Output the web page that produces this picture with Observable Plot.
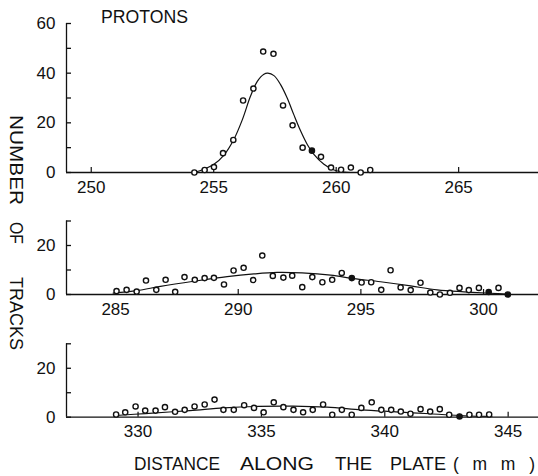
<!DOCTYPE html>
<html><head><meta charset="utf-8">
<script src="https://cdn.jsdelivr.net/npm/d3@7"></script>
<script src="https://cdn.jsdelivr.net/npm/@observablehq/plot@0.6"></script>
<style>
body{margin:0;background:#fff;}
#fig{position:relative;width:538px;height:476px;font-family:"Liberation Sans",Arial,sans-serif;color:#111;}
#fig svg{position:absolute;left:0;}
</style></head><body><div id="fig"></div>
<script>
// ---- Panel 1 (protons, 250–265 mm) ----
const p1X = [254.21,254.63,255.01,255.38,255.80,256.20,256.62,257.02,257.44,257.83,258.22,258.63,259.01,259.38,259.79,260.20,260.60,261.00,261.39];
const p1Y = [0,1.0,2.2,7.8,13.1,29.0,33.8,48.7,47.8,27.0,19.0,10.0,8.8,6.3,2.0,1.1,2.0,0,1.0];
const p1Solid = [259.01];
const p1CurveX = [254.2,254.60,255.01,255.41,255.82,256.17,256.50,256.78,257.05,257.21,257.46,257.73,258.00,258.27,258.55,258.82,259.09,259.50,259.91,260.31,260.6];
const p1CurveY = [0,1.3,3.3,6.9,13.3,21.3,30.7,36.7,39.6,40.0,39.0,35.4,30.0,23.3,16.7,11.3,7.3,3.3,1.0,0.2,0];
const p1XTicks = [250,255,260,265];
const p1YTicks = [0,10,20,30,40,50,60];

// ---- Panel 2 (285–300 mm) ----
const p2X = [285.04,285.45,285.86,286.24,286.66,287.04,287.43,287.81,288.23,288.63,289.01,289.42,289.81,290.22,290.61,290.98,291.41,291.84,292.20,292.61,293.02,293.43,293.83,294.22,294.63,295.03,295.42,295.83,296.21,296.62,297.03,297.43,297.83,298.22,298.63,299.02,299.40,299.81,300.21,300.61,300.99];
const p2Y = [1.4,1.9,1.2,5.7,1.9,6.0,1.1,7.1,6.0,6.7,6.8,4.1,9.8,10.9,5.9,15.9,7.6,6.9,7.7,3.0,7.1,5.0,6.0,8.8,6.7,4.9,5.0,1.9,9.9,2.9,1.8,4.8,0.8,0,0.7,2.7,1.8,2.7,1.0,2.7,0];
const p2Solid = [294.63,300.21,300.99];
const p2CurveX = [284.9,285.88,286.83,288.19,289.55,290.64,291.59,292.6,293.77,294.71,295.80,297.03,298.11,299.2,300.28,301.1];
const p2CurveY = [0.6,1.6,3.3,5.4,7.3,8.4,9.0,8.8,7.9,6.5,5.2,3.5,1.9,1.1,0.5,0.1];
const p2XTicks = [285,290,295,300];
const p2YTicks = [0,10,20,30];

// ---- Panel 3 (330–345 mm) ----
const p3X = [329.11,329.48,329.90,330.29,330.71,331.09,331.50,331.89,332.29,332.70,333.10,333.46,333.88,334.30,334.70,335.09,335.50,335.89,336.30,336.69,337.08,337.50,337.87,338.26,338.66,339.05,339.47,339.86,340.26,340.65,341.04,341.45,341.84,342.23,342.61,343.03,343.43,343.82,344.23];
const p3Y = [1.1,2.0,4.4,2.7,2.7,4.1,2.2,3.0,4.4,5.2,7.2,3.0,3.0,4.9,3.8,2.0,6.1,4.1,3.0,2.0,3.0,5.2,1.0,3.0,1.0,3.8,6.1,3.0,3.0,2.3,1.4,3.3,2.3,3.3,1.0,0.3,1.0,1.0,1.1];
const p3Solid = [343.03];
const p3CurveX = [329.1,330.3,332.1,333.49,334.88,336.27,337.66,339.05,340.44,341.84,343.23,344.34];
const p3CurveY = [0.7,1.5,2.7,3.8,4.4,4.5,4.1,3.0,2.2,1.4,0.6,0.3];
const p3XTicks = [330,335,340,345];
const p3YTicks = [0,10,20,30];

const INK = "#111";
const FONT = '"Liberation Sans", Arial, sans-serif';
const W = 538, ML = 66, TICK = 5;
const fig = document.getElementById("fig");

function panel({top, height, mt, mb, xDomain, yDomain, xTicks, yTicks, px, py, solid, cx, cy, labelPad}) {
  const pts = px.map((x, i) => ({x, y: py[i], fill: solid.includes(x) ? INK : "white"}));
  const curve = cx.map((x, i) => ({x, y: cy[i]}));
  const frameW = W - ML, frameH = height - mt - mb;
  const svg = Plot.plot({
    width: W, height,
    marginLeft: ML, marginRight: 0, marginTop: mt, marginBottom: mb,
    style: {fontFamily: FONT, fontSize: "17px", color: INK, background: "transparent", overflow: "visible"},
    x: {domain: xDomain, axis: null},
    y: {domain: yDomain, axis: null},
    color: {type: "identity"},
    marks: [
      Plot.ruleY([0], {stroke: INK, strokeWidth: 1.3}),
      Plot.ruleX([xDomain[0]], {y1: yDomain[0], y2: yDomain[1], stroke: INK, strokeWidth: 1.3}),
      // inward tick marks
      Plot.tickY(yTicks, {y: d => d, insetRight: frameW - TICK, stroke: INK, strokeWidth: 1.3}),
      Plot.tickX(xTicks, {x: d => d, insetTop: frameH - TICK, stroke: INK, strokeWidth: 1.2}),
      // labels
      Plot.axisY(yTicks, {tickSize: 0, tickPadding: 11, label: null,
        tickFormat: d => d % 20 === 0 ? String(d) : "", fill: INK}),
      Plot.axisX(xTicks, {tickSize: 0, tickPadding: labelPad, label: null,
        tickFormat: d => String(d), fill: INK}),
      Plot.line(curve, {x: "x", y: "y", curve: "catmull-rom", stroke: INK, strokeWidth: 1.2}),
      Plot.dot(pts, {x: "x", y: "y", r: 2.6, stroke: INK, strokeWidth: 1.4, fill: "fill"})
    ]
  });
  svg.style.top = top + "px";
  fig.appendChild(svg);
}

panel({top: 0, height: 200, mt: 23, mb: 28, xDomain: [248.99, 268.26], yDomain: [0, 60],
  xTicks: p1XTicks, yTicks: p1YTicks, px: p1X, py: p1Y, solid: p1Solid, cx: p1CurveX, cy: p1CurveY, labelPad: 8});
panel({top: 200, height: 130, mt: 20.5, mb: 36, xDomain: [283.0, 302.24], yDomain: [0, 30],
  xTicks: p2XTicks, yTicks: p2YTicks, px: p2X, py: p2Y, solid: p2Solid, cx: p2CurveX, cy: p2CurveY, labelPad: 8});
panel({top: 330, height: 146, mt: 13.3, mb: 59.3, xDomain: [327.1, 346.23], yDomain: [0, 30],
  xTicks: p3XTicks, yTicks: p3YTicks, px: p3X, py: p3Y, solid: p3Solid, cx: p3CurveX, cy: p3CurveY, labelPad: 8});

// ---- Text overlay ----
const ns = "http://www.w3.org/2000/svg";
const ov = document.createElementNS(ns, "svg");
ov.setAttribute("width", W); ov.setAttribute("height", 476);
ov.style.top = "0px"; ov.style.pointerEvents = "none";
fig.appendChild(ov);
function txt(s, x, y, len, rot, adjust = "spacingAndGlyphs") {
  const t = document.createElementNS(ns, "text");
  t.textContent = s;
  t.setAttribute("font-family", FONT);
  t.setAttribute("font-size", "17.5");
  t.setAttribute("fill", INK);
  t.setAttribute("textLength", len);
  t.setAttribute("lengthAdjust", adjust);
  t.setAttribute("transform", `translate(${x},${y})` + (rot ? ` rotate(${rot})` : ""));
  ov.appendChild(t);
}
txt("PROTONS", 101, 23, 87);
txt("NUMBER", 9.5, 115, 90, 90);
txt("OF", 9.5, 222, 22, 90);
txt("TRACKS", 9.5, 277, 73, 90);
txt("DISTANCE", 134, 470, 86);
txt("ALONG", 240, 470, 74);
txt("THE", 335, 470, 37);
txt("PLATE", 390, 470, 56);
txt("(mm)", 453, 470, 82, 0, "spacing");
</script></body></html>
